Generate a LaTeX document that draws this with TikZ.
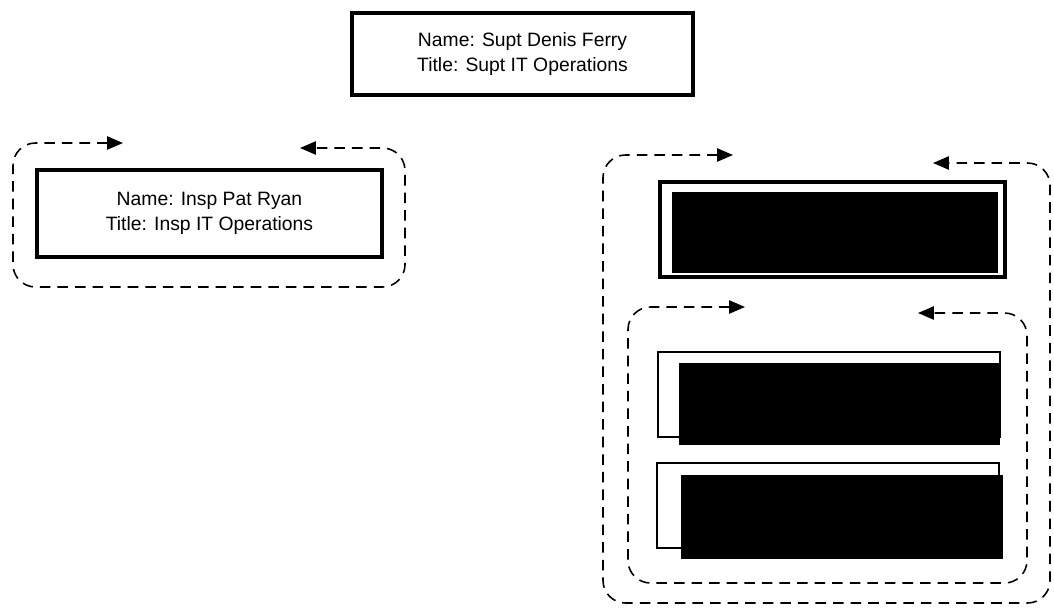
\documentclass[tikz,border=0pt]{standalone}
\usepackage{fontspec}
\setmainfont{Liberation Sans}
\usetikzlibrary{arrows.meta}

\begin{document}
\begin{tikzpicture}[
  card/.style={draw,line width=2pt,minimum width=6.82cm,minimum height=1.64cm,align=center,font=\fontsize{11}{14}\selectfont},
  slim/.style={draw,line width=0.8pt,minimum width=6.84cm,minimum height=1.7cm},
  redact/.style={fill=black,inner sep=0pt},
  loopline/.style={dash pattern=on 6pt off 4pt,line width=0.9pt,rounded corners=0.45cm,
    {Triangle[length=9pt,width=7.5pt]}-{Triangle[length=9pt,width=7.5pt]}}]
  \useasboundingbox (0,0) rectangle (21.08,12.14);
  % Head of unit
  \node[card] (supt) at (10.45,11.06) {Name: Supt Denis Ferry\\Title: Supt IT Operations};
  % Left group
  \node[card,minimum width=6.9cm,minimum height=1.74cm] (insp) at (4.19,7.87) {Name: Insp Pat Ryan\\Title: Insp IT Operations};
  \coordinate (lA) at (2.46,9.28);
  \coordinate (lB) at (6.0,9.18);
  \draw[loopline] (lA) -- (0.26,9.28) -- (0.26,6.4) -- (8.1,6.4) -- (8.1,9.18) -- (lB);
  % Right group (redacted)
  \node[card,minimum width=6.9cm,minimum height=1.9cm] (rtop) at (16.65,7.55) {};
  \node[redact,minimum width=6.52cm,minimum height=1.62cm] (rtopx) at (16.7,7.49) {};
  \node[slim] (rmidA) at (16.58,4.25) {};
  \node[redact,minimum width=6.42cm,minimum height=1.64cm] (rmidAx) at (16.79,4.06) {};
  \node[slim] (rmidB) at (16.56,2.03) {};
  \node[redact,minimum width=6.44cm,minimum height=1.68cm] (rmidBx) at (16.84,1.8) {};
  % Dashed loops
  \coordinate (rA) at (14.66,9.04);
  \coordinate (rB) at (18.66,8.88);
  \draw[loopline] (rA) -- (12.06,9.04) -- (12.06,0.08) -- (21.0,0.08) -- (21.0,8.88) -- (rB);
  \coordinate (iA) at (14.9,6.0);
  \coordinate (iB) at (18.36,5.88);
  \draw[loopline] (iA) -- (12.56,6.0) -- (12.56,0.48) -- (20.54,0.48) -- (20.54,5.88) -- (iB);
\end{tikzpicture}
\end{document}
